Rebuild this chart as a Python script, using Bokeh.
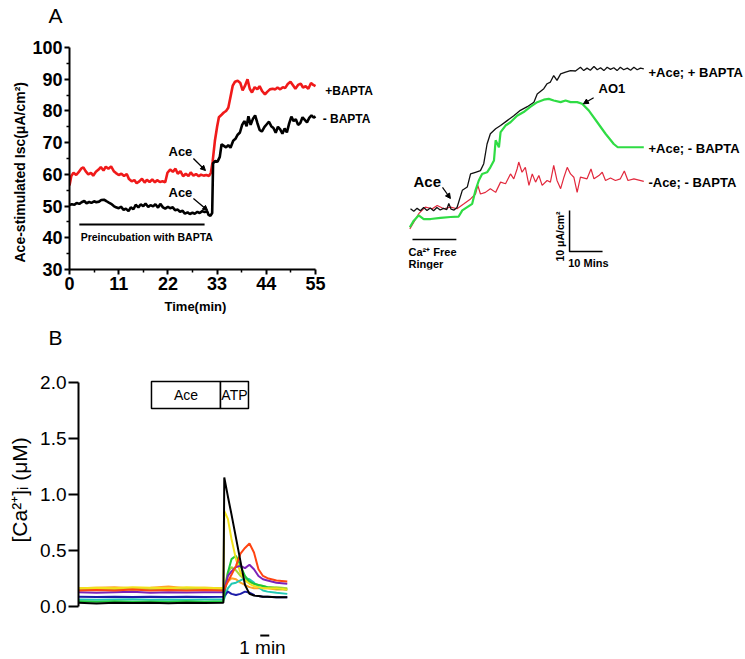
import math
from bokeh.plotting import figure
from bokeh.models import Range1d, FixedTicker, Arrow, NormalHead, NumeralTickFormatter, Title
from bokeh.layouts import column, row
from bokeh.embed import file_html
from bokeh.resources import INLINE
from bokeh.core.properties import value

FONT = "Liberation Sans"

# ---------------- Panel A (left): Ace-stimulated Isc ----------------
a_xticks = [0, 11, 22, 33, 44, 55]
a_xminor = [5.5, 16.5, 27.5, 38.5, 49.5]
a_yticks = [30, 40, 50, 60, 70, 80, 90, 100]
a_yminor = [35, 45, 55, 65, 75, 85, 95]

red_t = [0, 0.4, 0.9, 1.5, 2.0, 2.6, 3.1, 3.6, 4.2, 4.8, 5.3, 5.9, 6.5, 7.0, 7.6, 8.1, 8.7, 9.3, 9.9,
         10.4, 11.0, 11.6, 12.2, 12.8, 13.3, 13.9, 14.5, 15.0, 15.6, 16.2, 16.8, 17.3, 17.9, 18.5,
         19.1, 19.6, 20.2, 20.8, 21.4, 21.9, 22.5, 23.1, 23.7, 24.2, 24.8, 25.4, 26.0, 26.6, 27.1,
         27.7, 28.3, 28.9, 29.4, 30.0, 30.6, 31.2, 31.6, 32.0, 32.5, 33.0, 33.4, 34.0, 34.5, 35.0,
         35.5, 36.0, 36.5, 37.0, 37.6, 38.2, 38.7, 39.2, 39.8, 40.3, 40.8, 41.4, 42.0, 42.5, 43.1,
         43.7, 44.2, 44.8, 45.4, 46.0, 46.5, 47.1, 47.7, 48.2, 48.8, 49.4, 50.0, 50.5, 51.1, 51.7,
         52.2, 52.8, 53.4, 54.0, 54.5, 55.0]
red_v = [56.5, 59.5, 60.5, 59.8, 60.6, 61.8, 62.2, 61.0, 60.0, 60.5, 59.6, 60.8, 61.5, 62.3, 61.2,
         62.4, 61.8, 62.5, 61.0, 60.4, 59.8, 60.2, 59.5, 60.1, 58.5, 57.8, 58.2, 57.2, 57.8, 58.6,
         57.4, 58.3, 57.6, 58.4, 57.5, 58.2, 57.6, 57.8, 57.5, 60.5, 61.5, 60.8, 61.8, 60.2, 61.0,
         59.4, 60.2, 59.5, 60.6, 59.6, 60.1, 59.4, 59.9, 59.6, 59.8, 59.5, 60.5, 64.0, 70.5, 75.0,
         78.0, 78.8, 79.5, 80.0, 81.0, 84.5, 88.0, 89.2, 89.5, 88.8, 86.5, 87.8, 90.0, 87.0, 85.8,
         87.5, 86.8, 87.8, 86.2, 85.2, 86.0, 86.8, 87.0, 86.8, 87.4, 86.8, 87.5, 87.2, 88.5, 89.2,
         88.0, 87.0, 88.2, 88.6, 87.4, 87.8, 87.0, 88.8, 88.2, 87.8]

black_t = [0, 0.5, 1.1, 1.6, 2.2, 2.7, 3.3, 3.8, 4.4, 4.9, 5.5, 6.0, 6.6, 7.1, 7.7, 8.2, 8.8, 9.3,
           9.9, 10.4, 11.0, 11.5, 12.1, 12.6, 13.2, 13.7, 14.3, 14.8, 15.4, 15.9, 16.5, 17.0, 17.6,
           18.1, 18.7, 19.2, 19.8, 20.3, 20.9, 21.4, 22.0, 22.5, 23.1, 23.6, 24.2, 24.7, 25.3, 25.8,
           26.4, 26.9, 27.5, 28.0, 28.6, 29.1, 29.7, 30.2, 30.8, 31.1, 31.5, 31.9, 32.1, 32.6, 33.1,
           33.6, 34.0, 34.5, 35.0, 35.5, 36.0, 36.6, 37.1, 37.6, 38.1, 38.6, 39.1, 39.6, 40.0, 40.5,
           41.0, 41.5, 42.0, 42.5, 43.0, 43.6, 44.1, 44.6, 45.1, 45.6, 46.1, 46.6, 47.1, 47.6, 48.1,
           48.6, 49.1, 49.6, 50.1, 50.6, 51.1, 51.6, 52.1, 52.6, 53.1, 53.6, 54.1, 54.6, 55.0]
black_v = [50.3, 50.6, 50.4, 51.0, 50.7, 51.2, 51.6, 50.9, 51.3, 51.0, 51.5, 51.2, 51.4, 51.9, 52.0,
           51.6, 51.1, 50.7, 50.0, 49.6, 49.3, 49.8, 48.8, 49.2, 48.4, 49.6, 49.0, 50.4, 49.6, 50.5,
           50.0, 50.8, 49.7, 50.3, 49.9, 50.6, 49.5, 50.7, 49.6, 49.2, 49.8, 49.3, 49.6, 48.7, 48.9,
           48.2, 48.5, 47.6, 48.0, 47.5, 47.9, 47.6, 48.2, 47.8, 48.4, 48.1, 48.3, 47.2, 46.9, 47.8,
           63.5, 64.2, 64.0, 65.5, 69.5, 69.0, 68.5, 69.2, 68.4, 70.6, 71.2, 72.5, 73.2, 75.6, 76.8,
           75.2, 78.3, 75.6, 77.5, 78.6, 76.2, 74.0, 73.5, 75.0, 75.8, 76.6, 75.2, 74.6, 73.1, 75.0,
           74.2, 72.8, 74.5, 73.2, 76.0, 78.2, 76.8, 77.4, 75.6, 76.2, 78.0, 77.2, 76.4, 77.8, 78.6,
           77.9, 78.3]

# ---------------- Panel A (right): traces with scale bars ----------------
ab_t = [0, 1.0, 2.0, 3.0, 4.0, 5.0, 6.0, 7.0, 8.0, 9.0, 10.0, 11.0, 11.6, 12.3, 13.2, 14.1, 15.7,
        17.2, 18.2, 19.7, 21.2, 22.2, 23.2, 24.2, 25.8, 27.3, 29.3, 31.3, 33.3, 35.4, 37.4, 38.4,
        40.4, 41.4, 42.4, 43.4, 44.4, 45.5, 47.0, 48.5, 50.0, 51.5, 52.5, 53.5, 54.5, 55.6, 56.6,
        57.6, 58.6, 59.6, 60.6, 61.6, 62.6, 63.6, 64.6, 65.7, 66.7, 67.7, 68.7, 69.7, 70.7]
ab_v = [5.3, 4.7, 5.4, 4.8, 5.6, 4.9, 5.5, 4.8, 5.6, 5.0, 5.4, 5.1, 6.6, 5.2, 5.0, 5.6, 9.8,
        10.6, 13.8, 14.2, 14.6, 16.3, 21.1, 23.6, 24.8, 25.6, 26.8, 28.0, 29.3, 30.2, 31.3, 33.3,
        34.6, 35.8, 36.2, 37.8, 36.6, 38.2, 38.6, 39.0, 38.9, 39.8, 39.0, 39.6, 39.1, 40.0, 39.2,
        39.7, 39.0, 39.8, 39.3, 39.7, 39.0, 39.8, 39.2, 39.6, 39.1, 39.8, 39.2, 39.6, 39.4]

ag_t = [-0.2, 1.0, 2.5, 4.0, 6.1, 9.1, 12.1, 14.6, 15.7, 17.2, 18.7, 19.7, 20.7, 21.7, 23.2, 24.2,
        25.3, 25.8, 26.8, 27.3, 28.8, 30.3, 32.3, 34.3, 36.4, 38.4, 40.4, 41.9, 43.4, 45.5, 47.0,
        48.5, 50.5, 52.0, 54.0, 56.6, 59.1, 61.6, 62.8, 65.7, 70.7]
ag_v = [0.8, 2.4, 3.7, 2.8, 2.8, 3.1, 3.3, 3.4, 4.9, 5.7, 6.5, 9.8, 12.2, 13.8, 14.2, 15.4, 17.1,
        22.0, 20.3, 24.0, 25.6, 26.4, 28.0, 28.9, 30.2, 31.3, 31.9, 32.1, 31.7, 31.3, 31.7, 31.3,
        31.3, 30.9, 29.3, 26.4, 23.6, 21.1, 20.3, 20.3, 20.3]

ar_t = [-0.2, 1.0, 2.5, 4.5, 6.6, 8.1, 10.1, 12.1, 14.1, 16.2, 18.2, 19.7, 20.4, 21.2, 22.7, 24.2,
        25.8, 27.3, 28.8, 30.3, 31.3, 32.3, 32.8, 33.8, 34.8, 35.9, 36.9, 37.9, 38.9, 39.9, 41.4,
        42.4, 43.4, 44.4, 45.5, 46.5, 47.5, 48.5, 49.5, 50.5, 51.5, 53.5, 54.7, 55.6, 57.1, 58.1,
        59.1, 60.6, 62.1, 63.6, 64.8, 65.9, 67.7, 70.7]
ar_v = [0.4, 2.0, 4.1, 5.7, 5.3, 6.1, 5.3, 5.7, 5.3, 6.5, 7.7, 8.9, 11.0, 8.9, 9.3, 10.2, 9.3,
        11.8, 11.4, 13.8, 12.6, 15.0, 16.7, 14.2, 15.4, 11.0, 13.8, 11.8, 13.4, 11.0, 12.2, 11.8,
        15.9, 12.2, 10.2, 13.0, 15.4, 13.8, 13.0, 9.3, 13.0, 12.6, 15.0, 12.6, 13.4, 14.2, 12.2,
        12.8, 12.2, 12.6, 14.5, 12.2, 12.6, 12.0]

# ---------------- Panel B: [Ca2+]i traces ----------------
b_t = [0, 2, 4, 6, 8, 10, 12, 14, 16.1, 16.2, 16.6, 17.0, 17.5, 18.0, 18.5, 19.0, 19.5, 20.0,
       20.5, 21.0, 22.0, 23.2]
b_black = [0.030, 0.025, 0.030, 0.028, 0.030, 0.026, 0.030, 0.028, 0.030, 1.15, 0.98, 0.82, 0.61,
           0.40, 0.19, 0.11, 0.095, 0.09, 0.085, 0.085, 0.080, 0.080]
b_yellow = [0.160, 0.165, 0.160, 0.170, 0.165, 0.160, 0.170, 0.165, 0.160, 0.85, 0.78, 0.60,
            0.42, 0.30, 0.23, 0.20, 0.18, 0.17, 0.16, 0.16, 0.16, 0.15]
b_green = [0.045, 0.040, 0.045, 0.040, 0.042, 0.040, 0.045, 0.040, 0.045, 0.10, 0.30, 0.42, 0.45,
           0.36, 0.27, 0.22, 0.20, 0.19, 0.18, 0.17, 0.16, 0.15]
b_red = [0.140, 0.145, 0.140, 0.150, 0.140, 0.145, 0.140, 0.145, 0.140, 0.15, 0.22, 0.28, 0.36,
         0.47, 0.52, 0.56, 0.48, 0.33, 0.27, 0.25, 0.23, 0.22]
b_purple = [0.125, 0.120, 0.125, 0.128, 0.120, 0.125, 0.122, 0.125, 0.125, 0.14, 0.27, 0.31,
            0.35, 0.36, 0.34, 0.37, 0.33, 0.27, 0.24, 0.23, 0.21, 0.20]
b_teal = [0.060, 0.058, 0.060, 0.062, 0.058, 0.060, 0.058, 0.060, 0.060, 0.07, 0.16, 0.20, 0.21,
          0.23, 0.25, 0.24, 0.21, 0.17, 0.14, 0.13, 0.12, 0.11]
b_blue = [0.085, 0.082, 0.085, 0.083, 0.085, 0.082, 0.085, 0.083, 0.085, 0.09, 0.13, 0.11, 0.10,
          0.11, 0.13, 0.12, 0.10, 0.09, 0.085, 0.085, 0.080, 0.080]
b_orange = [0.160, 0.165, 0.170, 0.160, 0.165, 0.175, 0.160, 0.165, 0.160, 0.17, 0.22, 0.25,
            0.24, 0.21, 0.19, 0.17, 0.16, 0.16, 0.16, 0.16, 0.15, 0.15]
b_lime = [0.150, 0.148, 0.152, 0.150, 0.148, 0.150, 0.152, 0.150, 0.150, 0.16, 0.30, 0.35, 0.32,
          0.27, 0.24, 0.22, 0.20, 0.19, 0.18, 0.17, 0.17, 0.16]
b_yticks = [0, 0.5, 1.0, 1.5, 2.0]


def style_axis(ax, size, bold):
    ax.axis_line_width = 2
    ax.major_tick_line_width = 2
    ax.minor_tick_line_width = 1.5
    ax.major_tick_in = 0
    ax.minor_tick_in = 0
    ax.major_label_text_font = FONT
    ax.major_label_text_font_size = size
    ax.major_label_text_font_style = "bold" if bold else "normal"
    ax.major_label_text_color = "black"
    ax.axis_line_color = "black"
    ax.major_tick_line_color = "black"
    ax.minor_tick_line_color = "black"


def clean(p):
    p.grid.visible = False
    p.outline_line_color = None
    p.background_fill_color = "white"
    p.border_fill_color = "white"


# ======== Figure A1 (page x 0..380, y 0..322; frame 69..380 x 27..269) ========
p1 = figure(width=380, height=322, x_range=Range1d(0, 69.53), y_range=Range1d(30, 106.31),
            output_backend="svg", toolbar_location=None,
            min_border_left=69, min_border_right=0, min_border_top=27, min_border_bottom=53)
clean(p1)
p1.xaxis.ticker = FixedTicker(ticks=a_xticks, minor_ticks=a_xminor)
p1.yaxis.ticker = FixedTicker(ticks=a_yticks, minor_ticks=a_yminor)
p1.xaxis.bounds = (0, 55)
p1.yaxis.bounds = (30, 100)
for ax in (p1.xaxis[0], p1.yaxis[0]):
    style_axis(ax, "18px", True)
    ax.major_tick_out = 5
    ax.minor_tick_out = 3
    ax.major_label_standoff = 2

p1.add_layout(Title(text="A", text_font=FONT, text_font_size="21px", text_font_style="normal",
                    text_color="black", align="left", offset=-21, standoff=2,
                    vertical_align="bottom"), "above")
p1.add_layout(Title(text="Time(min)", text_font=FONT, text_font_size="13px", text_font_style="bold",
                    text_color="black", align="left", offset=95, standoff=10,
                    vertical_align="middle"), "below")
p1.add_layout(Title(text="Ace-stimulated Isc(\u03bcA/cm\u00b2)", text_font=FONT, text_font_size="14px",
                    text_font_style="bold", text_color="black", align="left", offset=7, standoff=2,
                    vertical_align="middle"), "left")

p1.line(red_t, red_v, line_color="#f01a1a", line_width=2.6)
p1.line(black_t, black_v, line_color="black", line_width=2.6)
p1.line([2.2, 30.2], [44.2, 44.2], line_color="black", line_width=2)

p1.text(x=[24.8, 24.8], y=[67.2, 54.3], text=["Ace", "Ace"], text_font=value(FONT),
        text_font_style="bold", text_font_size="13px", text_align="center", text_baseline="middle")
p1.text(x=[57.2, 56.6], y=[86.4, 77.6], text=["+BAPTA", "- BAPTA"], text_font=value(FONT),
        text_font_style="bold", text_font_size="12px", text_align="left", text_baseline="middle")
p1.text(x=[2.5], y=[40.4], text=["Preincubation with BAPTA"], text_font=value(FONT),
        text_font_style="bold", text_font_size="10.5px", text_align="left", text_baseline="middle")
p1.add_layout(Arrow(x_start=27.7, y_start=65.0, x_end=30.4, y_end=61.2, line_width=1.3,
                    end=NormalHead(size=5, fill_color="black", line_color="black")))
p1.add_layout(Arrow(x_start=27.7, y_start=52.4, x_end=30.9, y_end=48.6, line_width=1.3,
                    end=NormalHead(size=5, fill_color="black", line_color="black")))

# ======== Figure A2 (page x 380..745, y 0..322; frame rows aligned with A1: 27..269) ========
p2 = figure(width=365, height=322, x_range=Range1d(-9.09, 101.52), y_range=Range1d(-9.51, 49.51),
            output_backend="svg", toolbar_location=None,
            min_border_left=0, min_border_right=0, min_border_top=27, min_border_bottom=53,
            x_axis_location=None, y_axis_location=None)
clean(p2)
p2.line(ar_t, ar_v, line_color="#e2283c", line_width=1.2)
p2.line(ab_t, ab_v, line_color="#111111", line_width=1.3)
p2.line(ag_t, ag_v, line_color="#2fdc44", line_width=2.2)

p2.text(x=[72.1, 72.1, 72.1], y=[38.5, 20.0, 11.7],
        text=["+Ace; + BAPTA", "+Ace; - BAPTA", "-Ace; - BAPTA"], text_font=value(FONT),
        text_font_style="bold", text_font_size="13px", text_align="left", text_baseline="middle")
p2.text(x=[57.0], y=[34.6], text=["AO1"], text_font=value(FONT), text_font_style="bold",
        text_font_size="13px", text_align="left", text_baseline="middle")
p2.text(x=[0.9], y=[12.0], text=["Ace"], text_font=value(FONT), text_font_style="bold",
        text_font_size="15px", text_align="left", text_baseline="middle")
p2.text(x=[-0.6, -0.6], y=[-5.3, -8.2], text=["Ca\u00b2\u207a Free", "Ringer"], text_font=value(FONT),
        text_font_style="bold", text_font_size="11px", text_align="left", text_baseline="middle")
p2.line([0.6, 13.9], [-2.2, -2.2], line_color="black", line_width=1.5)
# scale bars
p2.line([48.2, 48.2, 58.2], [4.9, -5.1, -5.1], line_color="black", line_width=1.5)
p2.text(x=[45.2], y=[-1.46], text=["10 \u03bcA/cm\u00b2"], angle=math.pi / 2, text_font=value(FONT),
        text_font_style="bold", text_font_size="10.5px", text_align="center", text_baseline="middle")
p2.text(x=[53.9], y=[-8.0], text=["10 Mins"], text_font=value(FONT), text_font_style="bold",
        text_font_size="11px", text_align="center", text_baseline="middle")
p2.add_layout(Arrow(x_start=9.7, y_start=10.5, x_end=12.1, y_end=7.8, line_width=1.2,
                    end=NormalHead(size=5, fill_color="black", line_color="black")))
p2.add_layout(Arrow(x_start=55.5, y_start=32.4, x_end=52.4, y_end=30.9, line_width=1.2,
                    end=NormalHead(size=5, fill_color="black", line_color="black")))

# ======== Figure B (page x 0..380, y 322..659; frame 78..380 x 349..659) ========
p3 = figure(width=380, height=337, x_range=Range1d(0, 33.56), y_range=Range1d(-0.476, 2.292),
            output_backend="svg", toolbar_location=None, x_axis_location=None,
            min_border_left=78, min_border_right=0, min_border_top=27, min_border_bottom=0)
clean(p3)
p3.yaxis.ticker = FixedTicker(ticks=b_yticks)
p3.yaxis.bounds = (0, 2.0)
p3.yaxis.formatter = NumeralTickFormatter(format="0.0")
style_axis(p3.yaxis[0], "19px", False)
p3.yaxis.major_tick_out = 10
p3.yaxis.minor_tick_out = 0
p3.yaxis.major_label_standoff = 2

p3.add_layout(Title(text="B", text_font=FONT, text_font_size="21px", text_font_style="normal",
                    text_color="black", align="left", offset=-30, standoff=2,
                    vertical_align="bottom"), "above")
p3.add_layout(Title(text="[Ca\u00b2\u207a]\u1d62 (\u03bcM)", text_font=FONT, text_font_size="21px",
                    text_font_style="normal", text_color="black", align="left", offset=117,
                    standoff=12, vertical_align="middle"), "left")

for vals, col in [(b_orange, "#ffa428"), (b_lime, "#a6d83c"), (b_teal, "#22c8b4"),
                  (b_blue, "#1c1ca8"), (b_green, "#1ec83a"), (b_yellow, "#f2e21c"),
                  (b_purple, "#7a22b8"), (b_red, "#ff4412"), (b_black, "#000000")]:
    p3.line(b_t, vals, line_color=col, line_width=2)

p3.quad(left=[8.11, 15.78], right=[15.78, 18.89], top=[2.006, 2.006], bottom=[1.765, 1.765],
        fill_color="white", line_color="black", line_width=1.5)
p3.text(x=[11.95, 17.33], y=[1.885, 1.885], text=["Ace", "ATP"], text_font=value(FONT),
        text_font_size="14px", text_align="center", text_baseline="middle")
p3.line([20.2, 21.2], [-0.262, -0.262], line_color="black", line_width=2)
p3.text(x=[20.44], y=[-0.37], text=["1 min"], text_font=value(FONT), text_font_size="19px",
        text_align="center", text_baseline="alphabetic")

layout = column(row(p1, p2), p3)
open("out.html", "w").write(file_html(layout, INLINE))
